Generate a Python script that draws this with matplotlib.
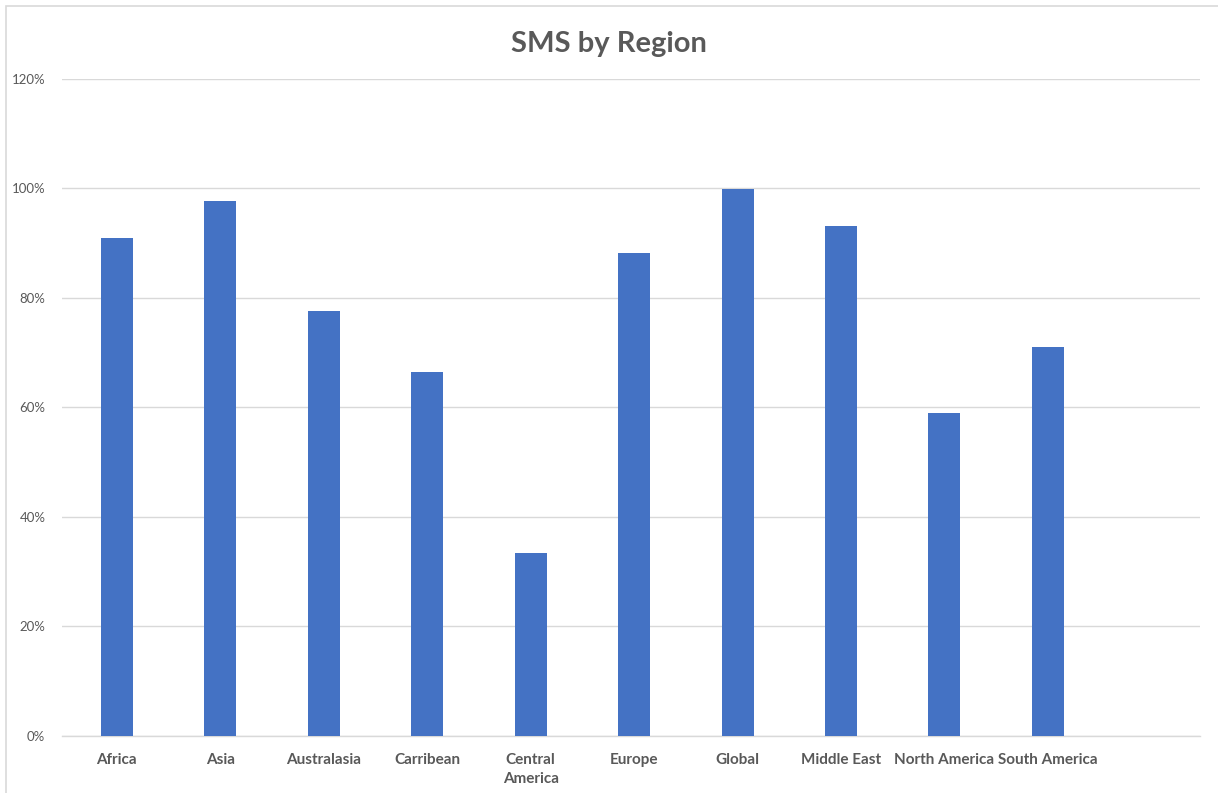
import matplotlib.pyplot as plt
from matplotlib.patches import Rectangle
from matplotlib.ticker import PercentFormatter

# 지역별 SMS 비율
regions = ['Africa', 'Asia', 'Australasia', 'Carribean', 'Central\nAmerica',
           'Europe', 'Global', 'Middle East', 'North America', 'South America']
sms_pct = [91.0, 97.7, 77.6, 66.5, 33.4, 88.2, 99.9, 93.2, 59.0, 71.0]
y_ticks = [0, 20, 40, 60, 80, 100, 120]

plt.rcParams['font.family'] = ['Lato', 'DejaVu Sans']

fig = plt.figure(figsize=(12.18, 7.93), dpi=100)
ax = fig.add_axes([0.0509, 0.0719, 0.9343, 0.8285])

# 차트 테두리
fig.patches.append(Rectangle((0.005, -0.01), 1.0, 1.002, transform=fig.transFigure,
                             fill=False, edgecolor='#d9d9d9', linewidth=1.2))

x = list(range(len(regions)))
ax.bar(x, sms_pct, width=0.31, color='#4472C4', zorder=3)

ax.set_xlim(-0.53, 10.47)
ax.set_ylim(0, 120)
ax.set_yticks(y_ticks)
ax.yaxis.set_major_formatter(PercentFormatter(decimals=0))
ax.grid(axis='y', color='#d9d9d9', linewidth=1, zorder=0)
ax.set_xticks(x)
ax.set_xticklabels(regions, fontsize=11, fontweight='bold', color='#595959',
                   linespacing=1.5, va='top')
ax.tick_params(axis='y', labelsize=9.5, labelcolor='#595959', length=0, pad=12)
ax.tick_params(axis='x', length=0, pad=12)

for side in ['top', 'right', 'left']:
    ax.spines[side].set_visible(False)
ax.spines['bottom'].set_color('#d9d9d9')
ax.spines['bottom'].set_linewidth(1)

fig.text(0.5, 0.945, 'SMS by Region', ha='center', va='center', fontsize=21,
         fontweight='bold', color='#595959')

fig.savefig('out.png', dpi=100)
